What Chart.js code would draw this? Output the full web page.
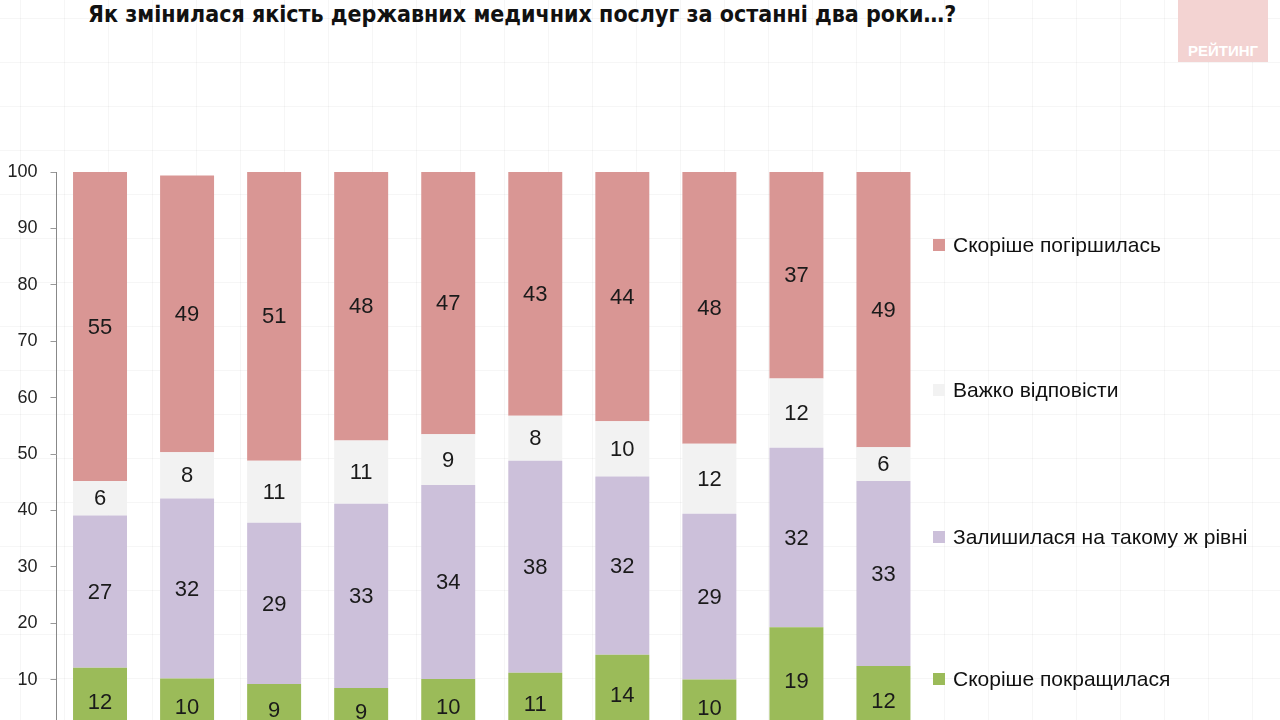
<!DOCTYPE html>
<html lang="uk">
<head>
<meta charset="utf-8">
<title>Якість державних медичних послуг</title>
<script src="https://cdn.jsdelivr.net/npm/chart.js@4.4.1/dist/chart.umd.min.js"></script>
<style>
  html, body {
    margin: 0;
    padding: 0;
    width: 1280px;
    height: 720px;
    overflow: hidden;
    background-color: #ffffff;
    background-image:
      linear-gradient(rgba(0,0,0,0.035) 1px, transparent 1px),
      linear-gradient(90deg, rgba(0,0,0,0.035) 1px, transparent 1px);
    background-size: 44px 44px;
    background-position: 20px 18px;
    font-family: "Liberation Sans", Arial, sans-serif;
  }
  #title {
    position: absolute;
    left: 88px;
    top: 1px;
    margin: 0;
    font-family: "Liberation Sans Narrow", "DejaVu Sans Condensed", "Liberation Sans", sans-serif;
    font-weight: bold;
    font-size: 23px;
    color: #111;
    white-space: nowrap;
  }
  #logo {
    position: absolute;
    left: 1178px;
    top: 0;
    width: 90px;
    height: 62px;
    background: #f3d3d2;
    color: #fff;
    font-family: "Liberation Sans Narrow", "Liberation Sans", sans-serif;
    font-weight: bold;
    font-size: 15px;
    text-align: center;
    line-height: 20px;
    box-sizing: border-box;
    padding-top: 41px;
  }
  #wrap {
    position: absolute;
    left: 0;
    top: 0;
    width: 940px;
    height: 800px;
  }
  #legend {
    position: absolute;
    left: 933px;
    top: 0;
    margin: 0;
    padding: 0;
    list-style: none;
  }
  #legend li {
    position: absolute;
    left: 0;
    white-space: nowrap;
    font-size: 21px;
    color: #111;
    line-height: 24px;
  }
  #legend li span {
    display: inline-block;
    width: 12px;
    height: 12px;
    margin-right: 8px;
    vertical-align: 1px;
  }
</style>
</head>
<body>
<h1 id="title">Як змінилася якість державних медичних послуг за останні два роки…?</h1>
<div id="logo">РЕЙТИНГ</div>
<div id="wrap"><canvas id="chart"></canvas></div>
<ul id="legend"></ul>

<script>
/* ── Data (labels show the rounded value) ── */
const categories = ['1', '2', '3', '4', '5', '6', '7', '8', '9', '10'];

const seriesNames = [
  'Скоріше покращилася',
  'Залишилася на такому ж рівні',
  'Важко відповісти',
  'Скоріше погіршилась',
];

const improved  = [12.1, 10.2,  9.2,  8.5, 10.1, 11.2, 14.4, 10.0, 19.3, 12.4];
const same      = [27.0, 31.9, 28.6, 32.7, 34.4, 37.6, 31.6, 29.4, 31.8, 32.8];
const hardToSay = [ 6.1,  8.2, 11.0, 11.2,  9.0,  8.0,  9.8, 12.4, 12.3,  6.0];
const worse     = [54.8, 49.1, 51.2, 47.6, 46.5, 43.2, 44.2, 48.2, 36.6, 48.8];

const yTicks = [0, 10, 20, 30, 40, 50, 60, 70, 80, 90, 100];

/* ── Theme ─────────────────────────────────────────────── */
const colors = ['#9bbb59', '#ccc0da', '#f2f2f2', '#d99694'];
const fontFamily = "'Liberation Sans', Arial, sans-serif";

// Legend sits to the right, top item first, spaced like the slide.
const legendOrder = [3, 2, 1, 0];
const legendTops = [233, 378, 525, 667];
const legend = document.getElementById('legend');
legendOrder.forEach((idx, i) => {
  const li = document.createElement('li');
  li.style.top = legendTops[i] + 'px';
  li.innerHTML = `<span style="background:${colors[idx]}"></span>${seriesNames[idx]}`;
  legend.appendChild(li);
});

// Value labels in the middle of each segment
const segmentLabels = {
  id: 'segmentLabels',
  afterDatasetsDraw(chart) {
    const { ctx } = chart;
    ctx.save();
    ctx.font = `22px ${fontFamily}`;
    ctx.fillStyle = '#1a1a1a';
    ctx.textAlign = 'center';
    ctx.textBaseline = 'middle';
    chart.data.datasets.forEach((ds, di) => {
      chart.getDatasetMeta(di).data.forEach((bar, i) => {
        const { x, y, base } = bar.getProps(['x', 'y', 'base'], true);
        ctx.fillText(String(Math.round(ds.data[i])), x, (y + base) / 2 + 1);
      });
    });
    ctx.restore();
  },
};

const seriesData = [improved, same, hardToSay, worse];

new Chart(document.getElementById('chart'), {
  type: 'bar',
  data: {
    labels: categories,
    datasets: seriesData.map((data, i) => ({
      label: seriesNames[i],
      data,
      backgroundColor: colors[i],
      borderWidth: 0,
      barPercentage: 0.62,
      categoryPercentage: 1,
    })),
  },
  options: {
    responsive: true,
    maintainAspectRatio: false,
    animation: false,
    layout: {
      padding: { top: 172, right: 13, bottom: 64, left: 0 },
    },
    plugins: {
      legend: { display: false },
      title: { display: false },
      tooltip: { enabled: false },
    },
    scales: {
      x: {
        stacked: true,
        display: false,
      },
      y: {
        stacked: true,
        min: 0,
        max: 100,
        afterFit: (scale) => { scale.width = 56.5; },
        afterBuildTicks: (scale) => {
          scale.ticks = yTicks.map((v) => ({ value: v }));
        },
        ticks: {
          color: '#222',
          padding: 13,
          font: { family: fontFamily, size: 18 },
        },
        grid: {
          drawOnChartArea: false,
          drawTicks: true,
          tickLength: 6,
          color: '#999',
        },
        border: { color: '#888', width: 1 },
      },
    },
  },
  plugins: [segmentLabels],
});
</script>
</body>
</html>
